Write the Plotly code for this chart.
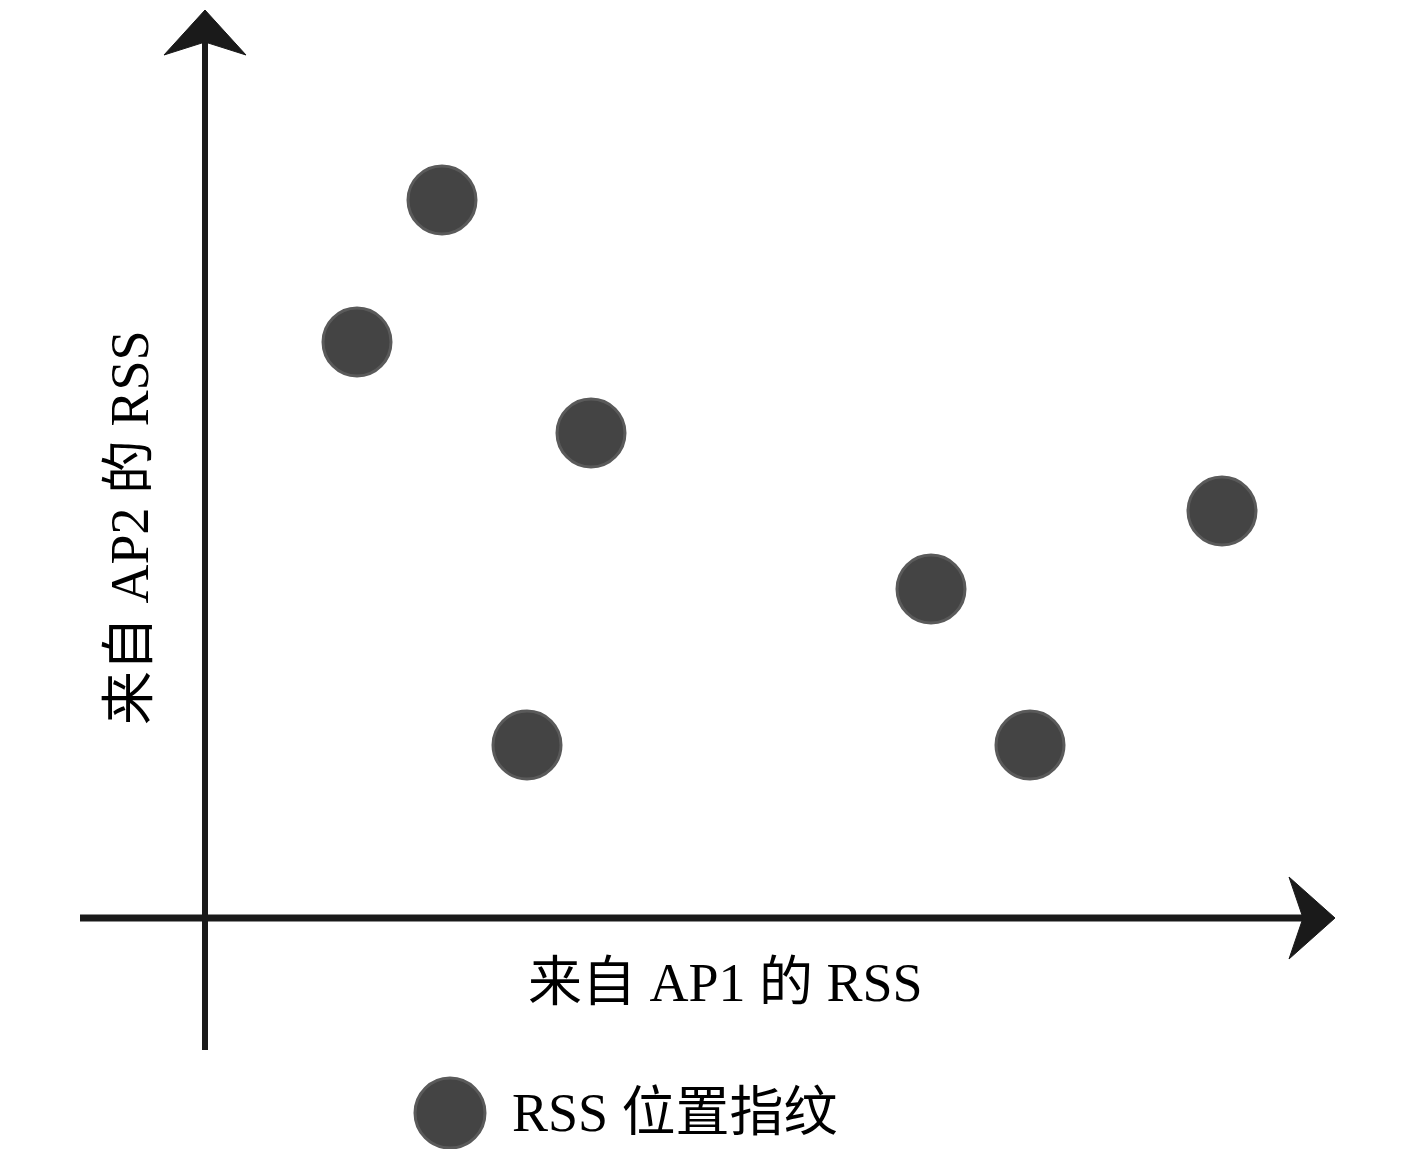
import plotly.graph_objects as go

# Data (arbitrary RSS units, origin at axis crossing)
ap1_rss = [237, 152, 386, 322, 726, 825, 1017]
ap2_rss = [718, 576, 485, 173, 329, 173, 407]

x_label = "来自 AP1 的 RSS"
y_label = "来自 AP2 的 RSS"
legend_label = "RSS 位置指纹"

FONT = "Liberation Serif, 'Times New Roman', 'Noto Sans CJK SC', serif"
MARK_FILL = "#444444"
MARK_EDGE = "#5a5a5a"
AXIS_COL = "#1a1a1a"

fig = go.Figure()
fig.add_trace(go.Scatter(
    x=ap1_rss, y=ap2_rss, mode="markers",
    marker=dict(size=68, color=MARK_FILL, line=dict(color=MARK_EDGE, width=3)),
    showlegend=False, hoverinfo="skip",
))

shapes = [
    # y axis
    dict(type="line", xref="x", yref="y", x0=0, y0=-132, x1=0, y1=878,
         line=dict(color=AXIS_COL, width=6)),
    dict(type="path", xref="x", yref="y",
         path="M 0 908 L -41 863 L 0 876 L 41 863 Z",
         fillcolor=AXIS_COL, line=dict(color=AXIS_COL, width=1)),
    # x axis
    dict(type="line", xref="x", yref="y", x0=-125, y0=0, x1=1100, y1=0,
         line=dict(color=AXIS_COL, width=7)),
    dict(type="path", xref="x", yref="y",
         path="M 1130 0 L 1084 41 L 1098 0 L 1084 -41 Z",
         fillcolor=AXIS_COL, line=dict(color=AXIS_COL, width=1)),
    # legend symbol
    dict(type="circle", xref="x", yref="y", x0=210, x1=280, y0=-160, y1=-230,
         fillcolor=MARK_FILL, line=dict(color=MARK_EDGE, width=3)),
]

annotations = [
    dict(text=x_label, xref="x", yref="y", x=520, y=-65, showarrow=False,
         font=dict(family=FONT, size=54, color="#000000"),
         xanchor="center", yanchor="middle"),
    dict(text=y_label, xref="x", yref="y", x=-75, y=390, showarrow=False,
         textangle=-90, font=dict(family=FONT, size=54, color="#000000"),
         xanchor="center", yanchor="middle"),
    dict(text=legend_label, xref="x", yref="y", x=305, y=-195, showarrow=False,
         font=dict(family=FONT, size=54, color="#000000"),
         xanchor="left", yanchor="middle"),
]

fig.update_layout(
    width=1401, height=1141,
    margin=dict(l=0, r=0, t=0, b=0),
    paper_bgcolor="white", plot_bgcolor="white",
    xaxis=dict(range=[-197, 1204], visible=False, fixedrange=True),
    yaxis=dict(range=[-231, 910], visible=False, fixedrange=True),
    shapes=shapes, annotations=annotations,
)

fig.write_html("out.html")
